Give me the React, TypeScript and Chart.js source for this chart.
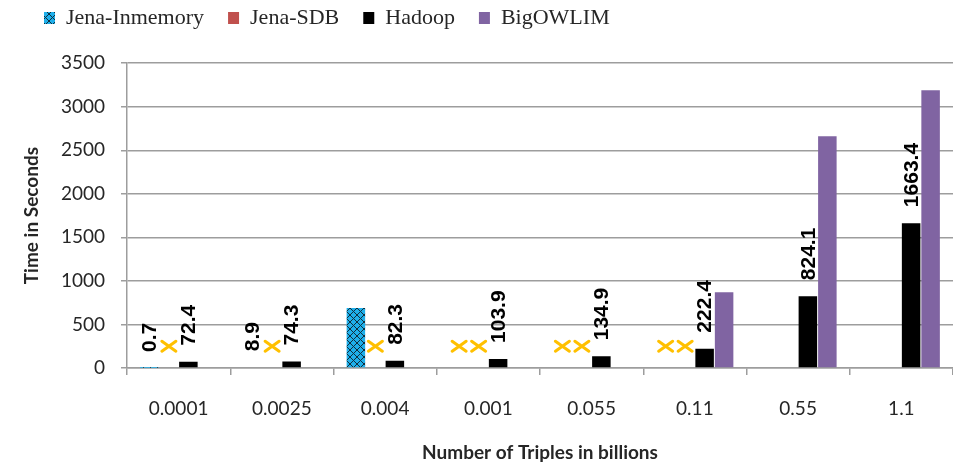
import React, { useEffect, useRef } from 'react';
import { Chart, registerables } from 'chart.js';

Chart.register(...registerables);

// ---------- data ----------
const categories = ['0.0001', '0.0025', '0.004', '0.001', '0.055', '0.11', '0.55', '1.1'];
const seriesNames = ['Jena-Inmemory', 'Jena-SDB', 'Hadoop', 'BigOWLIM'];
const jenaInmemory = [0.7, 8.9, 690, null, null, null, null, null];
const jenaSdb = [null, null, null, null, null, null, null, null];
const hadoop = [72.4, 74.3, 82.3, 103.9, 134.9, 222.4, 824.1, 1663.4];
const bigOwlim = [null, null, null, null, null, 870, 2660, 3190];
// "failed" markers (yellow X) for the Jena stores
const inmemoryFailed = [false, false, false, true, true, true, false, false];
const sdbFailed = [true, true, true, true, true, true, false, false];
const failMarkerValue = 250;
// which values carry a rotated data label
const inmemoryLabelShown = [true, true, false, false, false, false, false, false];
const hadoopLabelShown = [true, true, true, true, true, true, true, true];
const yMin = 0;
const yMax = 3500;
const yStep = 500;

const COLORS = {
  inmemory: '#1FAFEA',
  sdb: '#C0504D',
  hadoop: '#000000',
  owlim: '#8064A2',
  marker: '#FFC000',
  grid: '#9d9d9d',
  text: '#262626',
};

function makeHatch(): CanvasPattern | string {
  const size = 7;
  const c = document.createElement('canvas');
  c.width = size;
  c.height = size;
  const ctx = c.getContext('2d');
  if (!ctx) return COLORS.inmemory;
  ctx.fillStyle = COLORS.inmemory;
  ctx.fillRect(0, 0, size, size);
  ctx.strokeStyle = '#10303f';
  ctx.lineWidth = 1;
  ctx.beginPath();
  ctx.moveTo(-1, -1);
  ctx.lineTo(size + 1, size + 1);
  ctx.moveTo(size + 1, -1);
  ctx.lineTo(-1, size + 1);
  ctx.stroke();
  return ctx.createPattern(c, 'repeat') || COLORS.inmemory;
}

const markersAndLabels = {
  id: 'markersAndLabels',
  afterDatasetsDraw(chart: any) {
    const ctx: CanvasRenderingContext2D = chart.ctx;
    const yScale = chart.scales.y;
    // yellow X markers
    const yMark = yScale.getPixelForValue(failMarkerValue);
    const markerSets: [number, boolean[]][] = [
      [0, inmemoryFailed],
      [1, sdbFailed],
    ];
    ctx.save();
    ctx.strokeStyle = COLORS.marker;
    ctx.lineWidth = 3;
    ctx.lineCap = 'round';
    markerSets.forEach(([di, flags]) => {
      const meta = chart.getDatasetMeta(di);
      flags.forEach((f, i) => {
        if (!f) return;
        const el = meta.data[i];
        if (!el) return;
        const x = el.x;
        ctx.beginPath();
        ctx.moveTo(x - 7, yMark - 5);
        ctx.lineTo(x + 7, yMark + 5);
        ctx.moveTo(x + 7, yMark - 5);
        ctx.lineTo(x - 7, yMark + 5);
        ctx.stroke();
      });
    });
    ctx.restore();

    // rotated value labels
    const labelSets: [number, (number | null)[], boolean[]][] = [
      [0, jenaInmemory, inmemoryLabelShown],
      [2, hadoop, hadoopLabelShown],
    ];
    ctx.save();
    ctx.fillStyle = '#000000';
    ctx.font = 'bold 21px "Liberation Sans", Arial, sans-serif';
    ctx.textAlign = 'left';
    ctx.textBaseline = 'middle';
    labelSets.forEach(([di, values, shown]) => {
      const meta = chart.getDatasetMeta(di);
      values.forEach((v, i) => {
        if (v === null || !shown[i]) return;
        const el = meta.data[i];
        const top = yScale.getPixelForValue(v);
        ctx.save();
        ctx.translate(el.x + 1, top - 16);
        ctx.rotate(-Math.PI / 2);
        ctx.fillText(String(v), 0, 0);
        ctx.restore();
      });
    });
    ctx.restore();
  },
};

export default function App() {
  const canvasRef = useRef<HTMLCanvasElement | null>(null);

  useEffect(() => {
    document.body.style.margin = '0';
    const canvas = canvasRef.current;
    if (!canvas) return;
    const hatch = makeHatch();
    const chart = new Chart(canvas, {
      type: 'bar',
      data: {
        labels: categories,
        datasets: [
          { label: seriesNames[0], data: jenaInmemory, backgroundColor: hatch as any, borderWidth: 0 },
          { label: seriesNames[1], data: jenaSdb, backgroundColor: COLORS.sdb, borderWidth: 0 },
          { label: seriesNames[2], data: hadoop, backgroundColor: COLORS.hadoop, borderWidth: 0 },
          { label: seriesNames[3], data: bigOwlim, backgroundColor: COLORS.owlim, borderWidth: 0 },
        ],
      },
      options: {
        animation: false,
        responsive: true,
        maintainAspectRatio: false,
        layout: { padding: { top: -17, left: 20, right: 0, bottom: 0 } },
        datasets: {
          bar: { categoryPercentage: 0.755, barPercentage: 0.95 },
        },
        plugins: {
          tooltip: { enabled: false },
          legend: {
            display: true,
            position: 'top',
            align: 'start',
            labels: {
              font: { family: '"Liberation Serif", "Times New Roman", serif', size: 22 },
              color: COLORS.text,
              boxWidth: 11,
              boxHeight: 12,
              padding: 24,
            },
          },
          subtitle: {
            display: true,
            text: '',
            font: { size: 1 },
            padding: { top: 0, bottom: 23 },
            weight: 500,
          } as any,
        },
        scales: {
          x: {
            grid: {
              display: true,
              drawOnChartArea: false,
              drawTicks: true,
              tickLength: 7,
              offset: true,
              color: COLORS.grid,
              lineWidth: 1.5,
            },
            border: { display: true, color: COLORS.grid, width: 1.5 },
            ticks: {
              color: COLORS.text,
              padding: 22,
              font: { family: 'Lato, "Open Sans", sans-serif', size: 19 },
              maxRotation: 0,
              autoSkip: false,
            },
            title: {
              display: true,
              text: 'Number of Triples in billions',
              color: COLORS.text,
              font: { family: 'Lato, "Open Sans", sans-serif', size: 19, weight: 'bold' },
              padding: { top: 0, bottom: 2 },
            },
            afterFit: (scale: any) => {
              scale.height = 98;
            },
          },
          y: {
            min: yMin,
            max: yMax,
            ticks: {
              stepSize: yStep,
              color: COLORS.text,
              padding: 16,
              font: { family: 'Lato, "Open Sans", sans-serif', size: 19 },
              callback: (value: any) => String(value),
            },
            grid: {
              color: COLORS.grid,
              lineWidth: 1.5,
              drawTicks: true,
              tickLength: 6,
            },
            border: { display: true, color: COLORS.grid, width: 1.5 },
            title: {
              display: true,
              text: 'Time in Seconds',
              color: COLORS.text,
              font: { family: 'Lato, "Open Sans", sans-serif', size: 19, weight: 'bold' },
              padding: { top: 0, bottom: 0 },
            },
            afterFit: (scale: any) => {
              scale.width = 107;
            },
          },
        },
      },
      plugins: [markersAndLabels],
    });
    return () => chart.destroy();
  }, []);

  return (
    <div style={{ width: '953px', height: '466px', position: 'relative' }}>
      <canvas ref={canvasRef} />
    </div>
  );
}
